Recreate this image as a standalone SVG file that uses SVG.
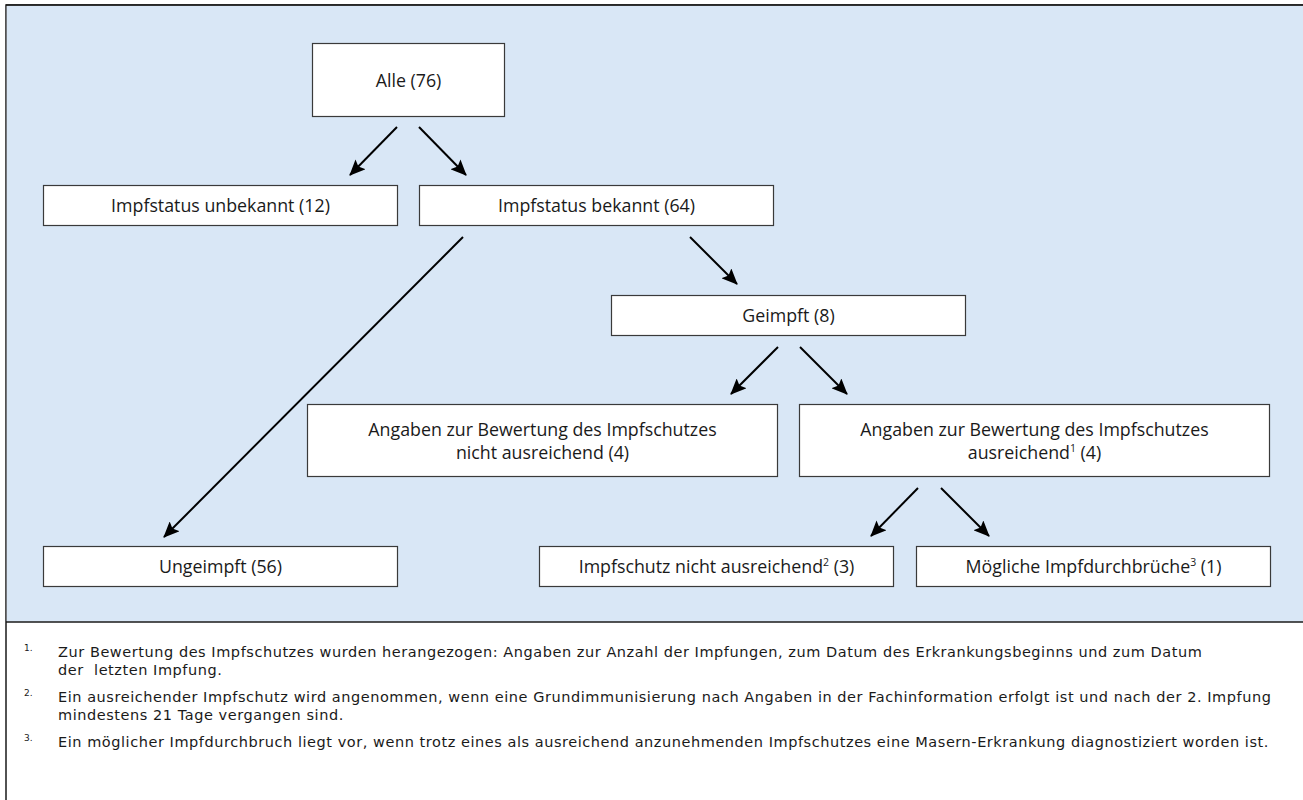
<svg xmlns="http://www.w3.org/2000/svg" width="1303" height="800" viewBox="0 0 1303 800">
<style>
.frame{fill:#ffffff;stroke:#1a1a1a;stroke-width:1.5}
.panel{fill:#d9e7f6}
.box{fill:#ffffff;stroke:#3a3a3a;stroke-width:1.2}
.t{font-family:"Open Sans","Liberation Sans",sans-serif;font-size:17.8px;fill:#1a1a1a;text-anchor:middle}
.fn{font-family:"DejaVu Sans","Open Sans",sans-serif;font-size:14.5px;letter-spacing:0.55px;fill:#1a1a1a}
.fm{font-family:"DejaVu Sans","Open Sans",sans-serif;font-size:9px;fill:#1a1a1a}
.sup{font-size:10.5px}
.arr{stroke:#000;stroke-width:2;fill:none;marker-end:url(#ah)}
</style>
<defs>
<marker id="ah" markerUnits="userSpaceOnUse" markerWidth="16" markerHeight="14" viewBox="0 0 16 14" refX="15" refY="7" orient="auto">
<path d="M0,0 L16,7 L0,14 L3,7 z" fill="#000"/>
</marker>
</defs>
<g id="background">
<rect class="frame" x="6" y="5" width="1310" height="810"/>
<rect class="panel" x="6.75" y="5.75" width="1310" height="616"/>
<line x1="6" y1="622" x2="1303" y2="622" stroke="#1a1a1a" stroke-width="1.5"/>
<line x1="6" y1="5" x2="1303" y2="5" stroke="#1a1a1a" stroke-width="1.5"/>
</g>
<g id="connectors">
<line class="arr" x1="397" y1="127" x2="350" y2="175"/>
<line class="arr" x1="419" y1="127" x2="466" y2="175"/>
<line class="arr" x1="463" y1="237" x2="164" y2="537"/>
<line class="arr" x1="690" y1="237" x2="737" y2="284"/>
<line class="arr" x1="778" y1="347" x2="731" y2="394"/>
<line class="arr" x1="800" y1="347" x2="847" y2="394"/>
<line class="arr" x1="918" y1="488" x2="871" y2="536"/>
<line class="arr" x1="941" y1="488" x2="989" y2="536"/>
</g>
<g id="n-alle">
<rect class="box" x="312.5" y="43.5" width="192" height="73"/>
<text class="t" x="408.5" y="86.5">Alle (76)</text>
</g>
<g id="n-unbekannt">
<rect class="box" x="43.5" y="185.5" width="354" height="40"/>
<text class="t" x="220.5" y="212">Impfstatus unbekannt (12)</text>
</g>
<g id="n-bekannt">
<rect class="box" x="419.5" y="185.5" width="354" height="40"/>
<text class="t" x="596.5" y="212">Impfstatus bekannt (64)</text>
</g>
<g id="n-geimpft">
<rect class="box" x="611.5" y="295.5" width="354" height="40"/>
<text class="t" x="788.5" y="322">Geimpft (8)</text>
</g>
<g id="n-nicht-ausreichend">
<rect class="box" x="307.5" y="404.5" width="470" height="72"/>
<text class="t" x="542.5" y="436">Angaben zur Bewertung des Impfschutzes<tspan x="542.5" dy="23">nicht ausreichend (4)</tspan></text>
</g>
<g id="n-ausreichend">
<rect class="box" x="799.5" y="404.5" width="470" height="72"/>
<text class="t" x="1034.5" y="436">Angaben zur Bewertung des Impfschutzes<tspan x="1034.5" dy="23">ausreichend</tspan><tspan class="sup" dy="-7">1</tspan><tspan dy="7"> (4)</tspan></text>
</g>
<g id="n-ungeimpft">
<rect class="box" x="43.5" y="546.5" width="354" height="40"/>
<text class="t" x="220.5" y="573">Ungeimpft (56)</text>
</g>
<g id="n-impfschutz-nicht">
<rect class="box" x="539.5" y="546.5" width="354" height="40"/>
<text class="t" x="716.5" y="573">Impfschutz nicht ausreichend<tspan class="sup" dy="-7">2</tspan><tspan dy="7"> (3)</tspan></text>
</g>
<g id="n-moegliche">
<rect class="box" x="916.5" y="546.5" width="354" height="40"/>
<text class="t" x="1093.5" y="573">Mögliche Impfdurchbrüche<tspan class="sup" dy="-7">3</tspan><tspan dy="7"> (1)</tspan></text>
</g>
<g id="footnotes">
<text class="fm" x="24" y="651">1.</text>
<text class="fn" x="58" y="657" xml:space="preserve">Zur Bewertung des Impfschutzes wurden herangezogen: Angaben zur Anzahl der Impfungen, zum Datum des Erkrankungsbeginns und zum Datum<tspan x="58" dy="18">der  letzten Impfung.</tspan></text>
<text class="fm" x="24" y="696">2.</text>
<text class="fn" x="58" y="702">Ein ausreichender Impfschutz wird angenommen, wenn eine Grundimmunisierung nach Angaben in der Fachinformation erfolgt ist und nach der 2. Impfung<tspan x="58" dy="18">mindestens 21 Tage vergangen sind.</tspan></text>
<text class="fm" x="24" y="741">3.</text>
<text class="fn" x="58" y="747">Ein möglicher Impfdurchbruch liegt vor, wenn trotz eines als ausreichend anzunehmenden Impfschutzes eine Masern-Erkrankung diagnostiziert worden ist.</text>
</g>
</svg>
